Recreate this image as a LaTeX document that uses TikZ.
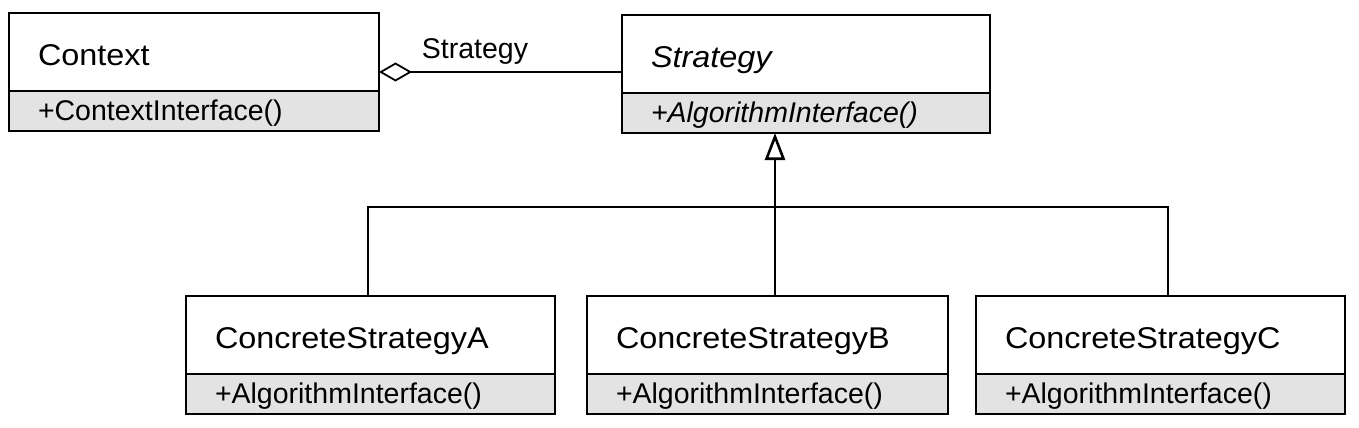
\documentclass[tikz,border=0pt]{standalone}
\usepackage{fontspec}
\setmainfont{Liberation Sans}
\newfontfamily\titlefont[FakeStretch=1.08]{Liberation Sans}
\usetikzlibrary{arrows.meta,positioning,calc}

\begin{document}
\begin{tikzpicture}[x=1pt, y=-1pt,
    classname/.style={draw, fill=white, line width=1.8pt, outer sep=0pt, anchor=north west,
      text width=#1, inner xsep=29pt, inner ysep=0pt, minimum height=78pt, align=left,
      text height=27pt, text depth=0pt, font=\titlefont\fontsize{30}{36}\selectfont},
    classops/.style={draw, fill=black!11, line width=1.8pt, outer sep=0pt, anchor=north west,
      text width=#1, inner xsep=29pt, inner ysep=0pt, minimum height=40pt, align=left,
      text height=18pt, text depth=0pt, font=\fontsize{28.5}{34}\selectfont},
    link/.style={line width=1.8pt},
    aggr/.style={link, {Diamond[open, length=33pt, width=19pt]}-},
    gen/.style={link, -{Triangle[open, length=27pt, width=20pt, line width=2.6pt]}}]
      \useasboundingbox (0, 0) rectangle (1359, 428);

      % top row
      \node[classname=312pt] (ctx) at (9, 13) {Context};
      \node[classops=312pt] (ctxops) at (ctx.south west) {+ContextInterface()};
      \node[classname=310pt] (strat) at (622, 15) {\itshape Strategy};
      \node[classops=310pt] (stratops) at (strat.south west) {\itshape +AlgorithmInterface()};

      % concrete strategies
      \node[classname=311pt] (csa) at (186, 296) {ConcreteStrategyA};
      \node[classops=311pt] (csaops) at (csa.south west) {+AlgorithmInterface()};
      \node[classname=303pt] (csb) at (587, 296) {ConcreteStrategyB};
      \node[classops=303pt] (csbops) at (csb.south west) {+AlgorithmInterface()};
      \node[classname=311pt] (csc) at (976, 296) {ConcreteStrategyC};
      \node[classops=311pt] (cscops) at (csc.south west) {+AlgorithmInterface()};

      \coordinate (aggstart) at ([yshift=-20pt]ctx.east);
      \draw[aggr] (aggstart) -- (strat.west |- aggstart)
        node (role) [pos=0, anchor=base west, inner sep=0pt, xshift=42pt, yshift=13pt,
          font=\fontsize{28.5}{34}\selectfont] {Strategy};

      \coordinate (hub) at (775, 207);
      \coordinate (joina) at (368, 207);
      \coordinate (joinc) at (1168, 207);
      \draw[gen] (hub |- csb.north) -- (hub |- stratops.south);
      \draw[link] (joina |- csa.north) -- (joina) -- (joinc) -- (joinc |- csc.north);
\end{tikzpicture}
\end{document}
